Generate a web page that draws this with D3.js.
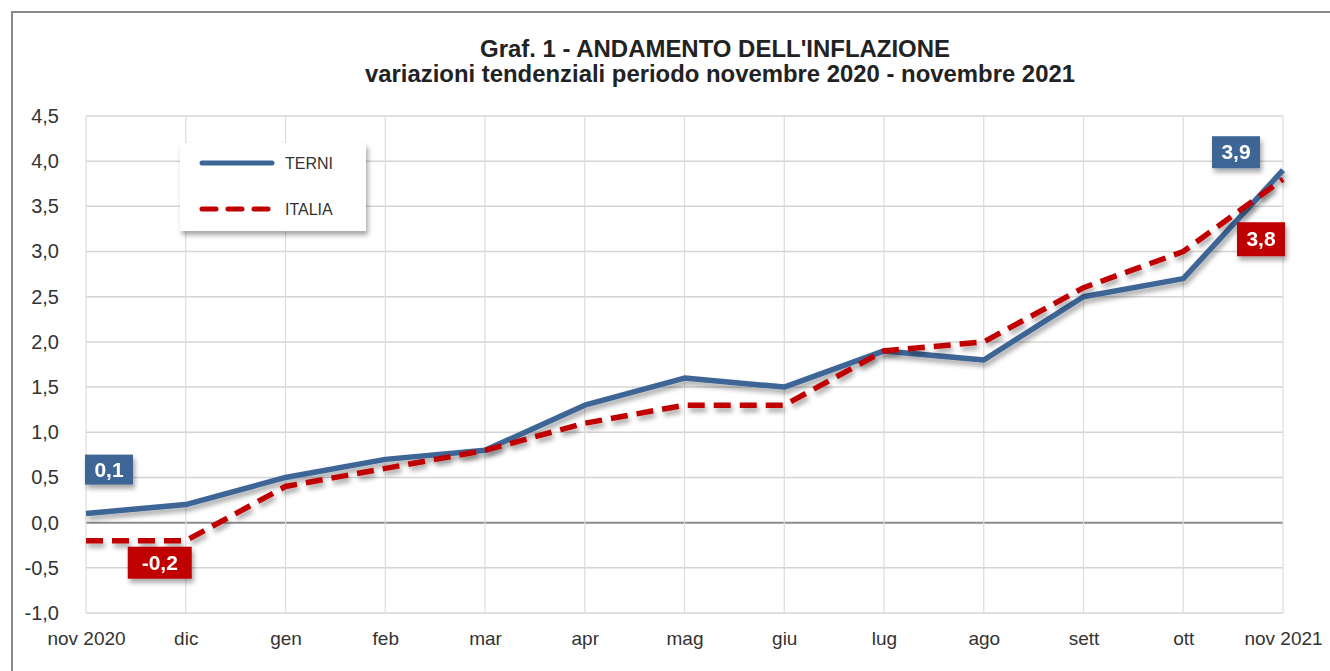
<!DOCTYPE html>
<html>
<head>
<meta charset="utf-8">
<script src="https://cdn.jsdelivr.net/npm/d3@7"></script>
<style>
  body { margin: 0; background: #fff; }
  text { font-family: "Liberation Sans", Arial, sans-serif; }
</style>
</head>
<body>
<script>
var months = ["nov 2020", "dic", "gen", "feb", "mar", "apr", "mag", "giu", "lug", "ago", "sett", "ott", "nov 2021"];
var terni = [0.1, 0.2, 0.5, 0.7, 0.8, 1.3, 1.6, 1.5, 1.9, 1.8, 2.5, 2.7, 3.9];
var italia = [-0.2, -0.2, 0.4, 0.6, 0.8, 1.1, 1.3, 1.3, 1.9, 2.0, 2.6, 3.0, 3.8];
var yTicks = [-1.0, -0.5, 0.0, 0.5, 1.0, 1.5, 2.0, 2.5, 3.0, 3.5, 4.0, 4.5];

var W = 1330, H = 671;
var blue = "#3d6596", red = "#c00000";

var svg = d3.select("body").append("svg")
  .attr("width", W).attr("height", H);

var defs = svg.append("defs");
var f = defs.append("filter").attr("id", "shadow")
  .attr("x", "-20%").attr("y", "-20%").attr("width", "150%").attr("height", "160%");
f.append("feDropShadow").attr("dx", 2).attr("dy", 4).attr("stdDeviation", 2.5)
  .attr("flood-color", "#000").attr("flood-opacity", 0.35);

// outer frame
svg.append("rect").attr("x", 12).attr("y", 12).attr("width", W + 20).attr("height", H + 20)
  .attr("fill", "none").attr("stroke", "#8a8a8a").attr("stroke-width", 2);

var x = d3.scalePoint().domain(months).range([86, 1283]);
var y = d3.scaleLinear().domain([-1, 4.5]).range([613, 116]);

// grid
var g = svg.append("g");
g.selectAll(".hg").data(yTicks).enter().append("line")
  .attr("x1", 86).attr("x2", 1283)
  .attr("y1", d => y(d)).attr("y2", d => y(d))
  .attr("stroke", d => d === 0 ? "#8c8c8c" : "#d4d4d4")
  .attr("stroke-width", d => d === 0 ? 2 : 1.5);
g.selectAll(".vg").data(months).enter().append("line")
  .attr("x1", d => x(d)).attr("x2", d => x(d))
  .attr("y1", y(4.5)).attr("y2", y(-1))
  .attr("stroke", "#dcdcdc").attr("stroke-width", 1.2);

// axes
var yAxis = d3.axisLeft(y).tickValues(yTicks).tickSize(0)
  .tickFormat(d => d3.format(".1f")(d).replace(".", ",").replace("−", "-"));
var ya = svg.append("g").attr("transform", "translate(62,0)").call(yAxis);
ya.select(".domain").remove();
ya.selectAll("text").attr("font-size", 20).attr("fill", "#333").attr("dx", 0);

var xAxis = d3.axisBottom(x).tickSize(0);
var xa = svg.append("g").attr("transform", "translate(0," + (y(-1) + 15) + ")").call(xAxis);
xa.select(".domain").remove();
xa.selectAll("text").attr("font-size", 19).attr("fill", "#333");

// title
svg.append("text").attr("x", 715).attr("y", 57).attr("text-anchor", "middle")
  .attr("font-size", 23).attr("font-weight", "bold").attr("fill", "#222")
  .attr("textLength", 470).attr("lengthAdjust", "spacingAndGlyphs")
  .text("Graf. 1 - ANDAMENTO DELL'INFLAZIONE");
svg.append("text").attr("x", 720).attr("y", 82).attr("text-anchor", "middle")
  .attr("font-size", 23).attr("font-weight", "bold").attr("fill", "#222")
  .attr("textLength", 710).attr("lengthAdjust", "spacingAndGlyphs")
  .text("variazioni tendenziali periodo novembre 2020 - novembre 2021");

// lines
var line = d3.line().x((d, i) => x(months[i])).y(d => y(d));
svg.append("path").datum(terni).attr("d", line)
  .attr("fill", "none").attr("stroke", blue).attr("stroke-width", 5.5)
  .attr("stroke-linejoin", "round").attr("filter", "url(#shadow)");
svg.append("path").datum(italia).attr("d", line)
  .attr("fill", "none").attr("stroke", red).attr("stroke-width", 5.5)
  .attr("stroke-dasharray", "17,9").attr("filter", "url(#shadow)");

// value labels
function label(cx, cy, w, h, txt, col) {
  var lg = svg.append("g").attr("filter", "url(#shadow)");
  lg.append("rect").attr("x", cx - w / 2).attr("y", cy - h / 2)
    .attr("width", w).attr("height", h).attr("fill", col);
  lg.append("text").attr("x", cx).attr("y", cy + 7).attr("text-anchor", "middle")
    .attr("font-size", 21).attr("font-weight", "bold").attr("fill", "#fff").text(txt);
}
function fmt(v) { return d3.format(".1f")(v).replace(".", ",").replace("−", "-"); }
label(x(months[0]) + 23, y(terni[0]) - 44, 48, 30, fmt(terni[0]), blue);
label(x(months[1]) - 26, y(italia[1]) + 22, 64, 32, fmt(italia[1]), red);
label(x(months[12]) - 47, y(terni[12]) - 18, 48, 32, fmt(terni[12]), blue);
label(x(months[12]) - 22, y(italia[12]) + 60, 48, 34, fmt(italia[12]), red);

// legend
var leg = svg.append("g");
leg.append("rect").attr("x", 180).attr("y", 143).attr("width", 186).attr("height", 88)
  .attr("fill", "#fff").attr("filter", "url(#shadow)");
leg.append("line").attr("x1", 202).attr("x2", 272).attr("y1", 163).attr("y2", 163)
  .attr("stroke", blue).attr("stroke-width", 5).attr("stroke-linecap", "round");
leg.append("line").attr("x1", 202).attr("x2", 272).attr("y1", 209).attr("y2", 209)
  .attr("stroke", red).attr("stroke-width", 5).attr("stroke-linecap", "round")
  .attr("stroke-dasharray", "14,12");
leg.append("text").attr("x", 285).attr("y", 169).attr("font-size", 16).attr("fill", "#333").text("TERNI");
leg.append("text").attr("x", 285).attr("y", 215).attr("font-size", 16).attr("fill", "#333").text("ITALIA");
</script>
</body>
</html>
